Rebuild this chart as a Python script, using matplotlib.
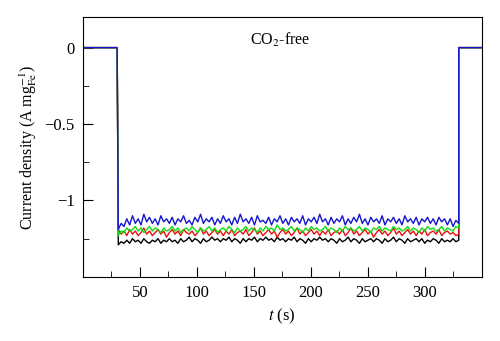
#!/usr/bin/env python3

import numpy as np
import matplotlib
matplotlib.use('Agg')
import matplotlib.pyplot as plt
from matplotlib.ticker import MultipleLocator

plt.rcParams['font.family'] = ['Liberation Serif', 'DejaVu Serif']
plt.rcParams['mathtext.fontset'] = 'stix'

# plateau current while the potential step is on (30 s .. 330 s)
blue = [-1.19, -1.15, -1.17, -1.12, -1.16, -1.10, -1.15, -1.12, -1.16, -1.09,
        -1.14, -1.11, -1.15, -1.12, -1.16, -1.10, -1.14, -1.12, -1.15, -1.11,
        -1.16, -1.12, -1.14, -1.10, -1.15, -1.13, -1.16, -1.11, -1.14, -1.09,
        -1.15, -1.12, -1.14, -1.11, -1.16, -1.12, -1.15, -1.10, -1.14, -1.12,
        -1.16, -1.11, -1.15, -1.09, -1.14, -1.12, -1.15, -1.11, -1.16, -1.10,
        -1.14, -1.13, -1.15, -1.11, -1.16, -1.12, -1.14, -1.10, -1.15, -1.12,
        -1.16, -1.11, -1.14, -1.12, -1.15, -1.10, -1.16, -1.12, -1.14, -1.11,
        -1.15, -1.09, -1.14, -1.12, -1.16, -1.11, -1.15, -1.12, -1.14, -1.10,
        -1.16, -1.12, -1.15, -1.11, -1.14, -1.09, -1.15, -1.12, -1.16, -1.11,
        -1.14, -1.12, -1.15, -1.10, -1.16, -1.12, -1.14, -1.11, -1.15, -1.12,
        -1.16, -1.10, -1.14, -1.12, -1.15, -1.11, -1.16, -1.12, -1.14, -1.11,
        -1.15, -1.12, -1.16, -1.11, -1.14, -1.12, -1.16, -1.12, -1.17, -1.13,
        -1.15]
green = [-1.23, -1.20, -1.21, -1.18, -1.20, -1.19, -1.17, -1.20, -1.18, -1.21,
         -1.19, -1.17, -1.20, -1.18, -1.19, -1.21, -1.18, -1.20, -1.19, -1.17,
         -1.20, -1.18, -1.21, -1.19, -1.18, -1.20, -1.17, -1.19, -1.21, -1.18,
         -1.20, -1.19, -1.17, -1.20, -1.18, -1.21, -1.19, -1.18, -1.20, -1.17,
         -1.19, -1.21, -1.18, -1.20, -1.19, -1.17, -1.20, -1.18, -1.19, -1.21,
         -1.18, -1.20, -1.17, -1.19, -1.18, -1.20, -1.16, -1.19, -1.18, -1.20,
         -1.19, -1.17, -1.20, -1.18, -1.19, -1.21, -1.18, -1.20, -1.17, -1.19,
         -1.18, -1.20, -1.19, -1.17, -1.20, -1.18, -1.19, -1.21, -1.18, -1.20,
         -1.17, -1.19, -1.18, -1.20, -1.19, -1.17, -1.20, -1.18, -1.19, -1.21,
         -1.18, -1.19, -1.17, -1.20, -1.18, -1.19, -1.20, -1.17, -1.19, -1.18,
         -1.20, -1.19, -1.17, -1.20, -1.18, -1.19, -1.21, -1.18, -1.20, -1.17,
         -1.19, -1.18, -1.20, -1.19, -1.17, -1.20, -1.18, -1.19, -1.20, -1.17,
         -1.18]
red = [-1.19, -1.22, -1.20, -1.23, -1.19, -1.22, -1.20, -1.23, -1.21, -1.18,
       -1.22, -1.20, -1.23, -1.21, -1.19, -1.22, -1.20, -1.24, -1.21, -1.19,
       -1.22, -1.20, -1.23, -1.19, -1.21, -1.22, -1.20, -1.23, -1.21, -1.18,
       -1.22, -1.20, -1.23, -1.21, -1.19, -1.22, -1.20, -1.23, -1.20, -1.22,
       -1.19, -1.23, -1.21, -1.20, -1.22, -1.19, -1.23, -1.21, -1.18, -1.22,
       -1.20, -1.23, -1.21, -1.19, -1.22, -1.20, -1.24, -1.21, -1.19, -1.22,
       -1.20, -1.23, -1.21, -1.18, -1.22, -1.20, -1.23, -1.21, -1.19, -1.22,
       -1.20, -1.23, -1.20, -1.22, -1.19, -1.23, -1.21, -1.20, -1.22, -1.19,
       -1.23, -1.21, -1.18, -1.22, -1.20, -1.23, -1.21, -1.19, -1.22, -1.20,
       -1.24, -1.21, -1.19, -1.22, -1.20, -1.23, -1.21, -1.18, -1.22, -1.20,
       -1.23, -1.21, -1.19, -1.22, -1.20, -1.23, -1.20, -1.22, -1.19, -1.23,
       -1.21, -1.20, -1.22, -1.19, -1.23, -1.21, -1.20, -1.22, -1.21, -1.23,
       -1.22]
black = [-1.29, -1.27, -1.28, -1.26, -1.28, -1.25, -1.27, -1.26, -1.28, -1.25,
         -1.27, -1.28, -1.26, -1.27, -1.25, -1.28, -1.26, -1.27, -1.25, -1.27,
         -1.26, -1.28, -1.25, -1.27, -1.26, -1.24, -1.27, -1.25, -1.26, -1.28,
         -1.25, -1.27, -1.26, -1.24, -1.26, -1.25, -1.27, -1.25, -1.26, -1.24,
         -1.27, -1.25, -1.26, -1.28, -1.25, -1.27, -1.25, -1.26, -1.24, -1.27,
         -1.25, -1.26, -1.24, -1.26, -1.25, -1.27, -1.24, -1.26, -1.25, -1.27,
         -1.25, -1.26, -1.24, -1.27, -1.25, -1.26, -1.28, -1.25, -1.27, -1.25,
         -1.26, -1.24, -1.26, -1.25, -1.27, -1.25, -1.26, -1.28, -1.25, -1.27,
         -1.26, -1.24, -1.27, -1.25, -1.26, -1.28, -1.25, -1.27, -1.26, -1.25,
         -1.27, -1.25, -1.26, -1.28, -1.25, -1.27, -1.26, -1.24, -1.27, -1.25,
         -1.26, -1.28, -1.25, -1.27, -1.26, -1.25, -1.27, -1.25, -1.28, -1.26,
         -1.27, -1.25, -1.26, -1.28, -1.25, -1.27, -1.26, -1.27, -1.25, -1.27,
         -1.26]

t_on, t_off, t_end = 30, 330, 350
colors = {'black': 'black', 'red': '#e81010', 'green': '#10dd10', 'blue': '#1515d0'}

fig = plt.figure(figsize=(5.0, 3.41), dpi=100)
ax = fig.add_axes([0.166, 0.188, 0.797, 0.762])

for name, vals in [('black', black), ('red', red), ('green', green), ('blue', blue)]:
    t = np.linspace(t_on + 1, t_off, len(vals))
    x = np.concatenate([[0, t_on], t, [t_off, t_end]])
    y = np.concatenate([[0, 0], vals, [0, 0]])
    ax.plot(x, y, color=colors[name], lw=1.0)

ax.set_xlim(0, 350)
ax.set_ylim(-1.5, 0.2)
ax.xaxis.set_minor_locator(MultipleLocator(25))
ax.yaxis.set_minor_locator(MultipleLocator(0.25))
ax.set_xticks([50, 100, 150, 200, 250, 300])
ax.set_yticks([-1, -0.5, 0])
ax.set_yticklabels(['\u22121', '\u22120.5', '0'])
ax.tick_params(which='both', direction='in', top=False, right=False, labelsize=12)
ax.tick_params(which='major', length=7, pad=6)
ax.tick_params(which='minor', length=4)

ax.text(173, 0.05, 'CO$_2$-free', ha='center', va='center', fontsize=11.5)
ax.set_xlabel('$t$ (s)', fontsize=12)
ax.set_ylabel('Current density (A mg$_{\\rm Fe}^{-1}$)', fontsize=11.5)

plt.savefig('out.png', dpi=100)
